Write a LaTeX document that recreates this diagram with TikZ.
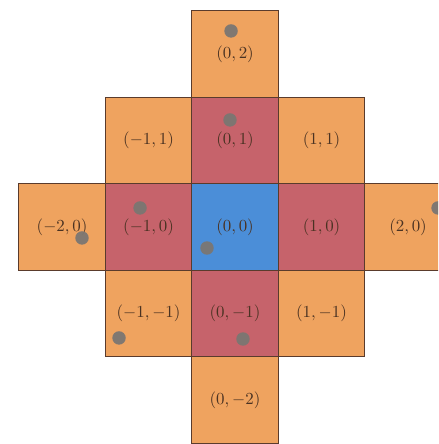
\documentclass[tikz,border=0pt]{standalone}
\usepackage{amsmath}
\usepackage{tikz}

\definecolor{orng}{HTML}{EFA35F}
\definecolor{rose}{HTML}{C6636B}
\definecolor{sky}{HTML}{4B8ED8}
\definecolor{edge}{HTML}{5A3B2C}
\definecolor{lbl}{HTML}{4A3222}
\definecolor{pt}{HTML}{7B7672}

\begin{document}
\begin{tikzpicture}[x=1.8cm,y=1.8cm,cell/.style={rectangle,draw=edge,fill=#1,line width=0.8pt,minimum size=1.8cm,inner sep=0pt,text=lbl,font=\normalsize},dot/.style={circle,fill=pt,fill opacity=0.95,inner sep=0pt,minimum size=0.28cm}]
\clip (-2.717,-2.509) rectangle (2.347,2.624);
\useasboundingbox (-2.717,-2.509) rectangle (2.347,2.624);
% cells of the neighbourhood
\foreach \x/\y/\c/\n in %
{0/2/orng/a, -1/1/orng/b, 0/1/rose/c, 1/1/orng/d, -2/0/orng/e, -1/0/rose/f, 0/0/sky/g, 1/0/rose/h, 2/0/orng/i, -1/-1/orng/j, 0/-1/rose/k, 1/-1/orng/l, 0/-2/orng/m} {
   \node[cell=\c] (cell-\n) at (\x,\y) {$(\x,\y)$};
}
% sample points
\foreach \x/\y/\n in %
{-0.046/2.266/1, -0.058/1.237/2, -1.098/0.22/3, -1.769/-0.127/4, -0.324/-0.243/5, 2.347/0.22/6, -1.341/-1.283/7, 0.092/-1.295/8} {
   \node[dot] (pt-\n) at (\x,\y) {};
}
\end{tikzpicture}
\end{document}
